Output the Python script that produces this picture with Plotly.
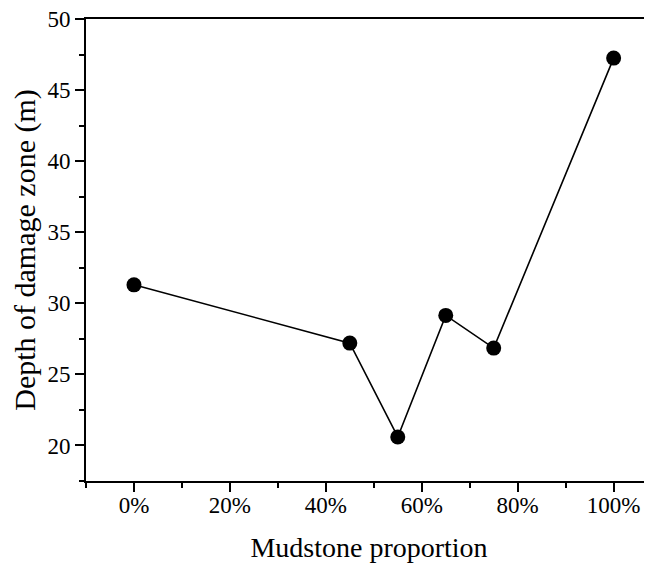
import plotly.graph_objects as go

mudstone_pct = [0, 45, 55, 65, 75, 100]
depth_m = [31.3, 27.2, 20.6, 29.15, 26.85, 47.25]
x_tickvals = [0, 20, 40, 60, 80, 100]
x_ticktext = ["0%", "20%", "40%", "60%", "80%", "100%"]

fig = go.Figure()
fig.add_trace(go.Scatter(
    x=mudstone_pct, y=depth_m, mode="lines+markers",
    line=dict(color="black", width=1.6),
    marker=dict(color="black", size=15),
    showlegend=False,
))

font = "Liberation Serif, Times New Roman, serif"
fig.update_layout(
    width=644, height=560,
    margin=dict(l=78, r=0, t=11, b=87),
    plot_bgcolor="white", paper_bgcolor="white",
    font=dict(family=font, color="black", size=23),
)
fig.update_xaxes(
    range=[-10, 108], showgrid=False, zeroline=False, automargin=False,
    showline=True, linecolor="black", linewidth=2, mirror=True,
    tickmode="array", tickvals=x_tickvals, ticktext=x_ticktext,
    ticks="outside", ticklen=9, tickwidth=2, tickcolor="black",
    minor=dict(dtick=10, tick0=0, ticks="outside", ticklen=5, tickwidth=2, tickcolor="black"),
    tickfont=dict(size=23), ticklabeloverflow="allow", ticklabelstandoff=-7,
    title=dict(text="Mudstone proportion", font=dict(size=28), standoff=21),
)
fig.update_yaxes(
    range=[17.5, 50], showgrid=False, zeroline=False, automargin=False,
    showline=True, linecolor="black", linewidth=2,
    tick0=0, dtick=5,
    ticks="outside", ticklen=9, tickwidth=2, tickcolor="black",
    minor=dict(dtick=2.5, tick0=0, ticks="outside", ticklen=5, tickwidth=2, tickcolor="black"),
    tickfont=dict(size=23), ticklabeloverflow="allow",
    title=dict(text="Depth of damage zone (m)", font=dict(size=30), standoff=4),
)

fig.write_html("out.html")
